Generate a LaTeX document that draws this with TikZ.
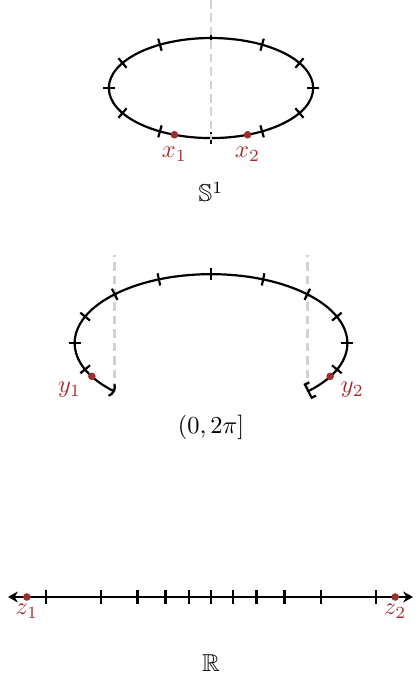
\documentclass[tikz,border=0pt]{standalone}
\usepackage{amsmath}
\usepackage{amssymb}
\usetikzlibrary{positioning,arrows.meta}
\definecolor{ptred}{RGB}{160,45,45}

\begin{document}
\begin{tikzpicture}[scale=1.0,
        curve/.style={line width=0.9pt},
        tickmark/.style={line width=0.9pt},
        guide/.style={dash pattern=on 3.5pt off 2pt,line width=1pt,gray!35},
        pt/.style={circle,fill=ptred,inner sep=1.1pt},
        ptlabel/.style={text=ptred,inner sep=1pt}]
        \useasboundingbox (-3.036,0) rectangle (2.964,9.813);
        % the circle S^1
        \draw[curve] (0,8.546) ellipse (1.47 and 0.72);
        \foreach \t in {0,30,...,330} {
            \pgfmathsetmacro\nrm{atan2(1.47*sin(\t),0.72*cos(\t))}
            \draw[tickmark,shift={(0,8.546)}] (\t:1.47 and 0.72) ++(\nrm:0.09) -- ++(\nrm+180:0.18);
        }
        \draw[guide] (0,9.813) -- (0,7.80);
        \path (0,8.546) ++(249:1.47 and 0.72) node[pt] (x1) {};
        \path (0,8.546) ++(291:1.47 and 0.72) node[pt] (x2) {};
        \node[ptlabel,below=2pt of x1] (lx1) {$x_1$};
        \node[ptlabel,below=2pt of x2] (lx2) {$x_2$};
        \node (s1) at (0,7.05) {$\mathbb{S}^1$};
        % the interval (0,2pi]
        \draw[guide,shift={(0,4.878)}] (225:1.96 and 0.99) -- ++(0,1.97);
        \draw[guide,shift={(0,4.878)}] (-45:1.96 and 0.99) -- ++(0,1.97);
        \draw[curve,{Parenthesis[length=2.5pt,width=7pt]}-{Bracket[length=2pt,width=7pt]},shift={(0,4.878)}]
            (225:1.96 and 0.99) arc[start angle=225, end angle=-45, x radius=1.96, y radius=0.99];
        \foreach \t in {-22.5,0,...,202.5} {
            \pgfmathsetmacro\nrm{atan2(1.96*sin(\t),0.99*cos(\t))}
            \draw[tickmark,shift={(0,4.878)}] (\t:1.96 and 0.99) ++(\nrm:0.09) -- ++(\nrm+180:0.18);
        }
        \path (0,4.878) ++(209:1.96 and 0.99) node[pt] (y1) {};
        \path (0,4.878) ++(331:1.96 and 0.99) node[pt] (y2) {};
        \node[ptlabel,below left=0pt and 2pt of y1] (ly1) {$y_1$};
        \node[ptlabel,below right=0pt and 2pt of y2] (ly2) {$y_2$};
        \node (int) at (0,3.669) {$(0,2\pi]$};
        % the real line
        \draw[curve,{Stealth[length=4pt,width=4.5pt]}-{Stealth[length=4pt,width=4.5pt]}] (-2.92,1.223) -- (2.906,1.223);
        \foreach \k in {-5,...,5} {
            \draw[tickmark] ({1.583*tan(11.25*\k)},1.128) -- ++(0,0.19);
        }
        \node[pt] (z1) at (-2.65,1.223) {};
        \node[pt] (z2) at (2.65,1.223) {};
        \node[ptlabel,below=0pt of z1] (lz1) {$z_1$};
        \node[ptlabel,below=0pt of z2] (lz2) {$z_2$};
        \node (r) at (0,0.273) {$\mathbb{R}$};
\end{tikzpicture}
\end{document}
